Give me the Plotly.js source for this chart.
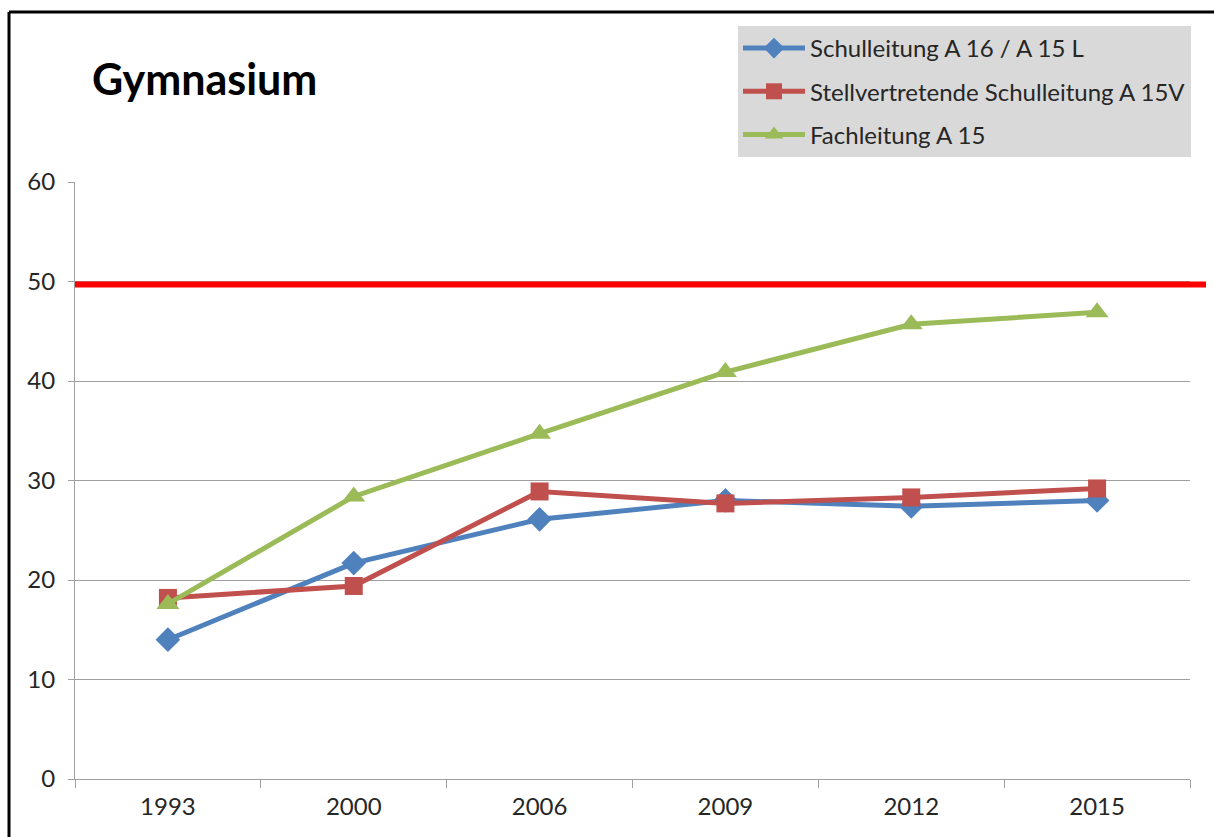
<!DOCTYPE html>
<html>
<head>
<meta charset="utf-8">
<script src="https://cdn.plot.ly/plotly-3.0.1.min.js"></script>
<style>html,body{margin:0;padding:0;background:#fff;}#chart{width:1214px;height:837px;}</style>
</head>
<body>
<div id="chart"></div>
<script>
const years = ["1993", "2000", "2006", "2009", "2012", "2015"];
const schulleitung = [14.0, 21.7, 26.1, 28.0, 27.4, 28.0];
const stellvertretend = [18.2, 19.4, 28.9, 27.7, 28.3, 29.2];
const fachleitung = [17.6, 28.4, 34.7, 40.9, 45.7, 46.9];
const seriesNames = ["Schulleitung A 16 / A 15 L", "Stellvertretende Schulleitung A 15V", "Fachleitung A 15"];
const referenceLevel = 49.7;
const yTicks = [0, 10, 20, 30, 40, 50, 60];
const chartTitle = "Gymnasium";

const FONT = "Lato, 'Open Sans', sans-serif";
const traces = [
  {x: years, y: schulleitung, name: seriesNames[0], legendgroup: "a", mode: "lines+markers",
   line: {color: "#4F81BD", width: 5}, marker: {symbol: "diamond", size: 19, color: "#4F81BD"}},
  {x: years, y: stellvertretend, name: seriesNames[1], legendgroup: "b", mode: "lines+markers",
   line: {color: "#C0504D", width: 5}, marker: {symbol: "square", size: 18, color: "#C0504D"}},
  {x: years, y: fachleitung, name: seriesNames[2], legendgroup: "c", mode: "lines+markers",
   line: {color: "#9BBB59", width: 5}, marker: {symbol: "triangle-up", size: 20, color: "#9BBB59"}}
];

const layout = {
  width: 1214, height: 837,
  paper_bgcolor: "#fff", plot_bgcolor: "#fff",
  margin: {l: 75, r: 24, t: 182, b: 58, pad: 0},
  font: {family: FONT, size: 24, color: "#262626"},
  title: {text: "<b>" + chartTitle + "</b>", xref: "container", yref: "container",
          x: 92/1214, xanchor: "left", y: 1 - 80/837, yanchor: "middle",
          font: {family: FONT, size: 43, color: "#000"}},
  showlegend: true,
  legend: {x: (738-75)/1115, xref: "paper", xanchor: "left", y: 1 + (182-26)/597, yanchor: "top",
           bgcolor: "#D9D9D9", borderwidth: 0, font: {family: FONT, size: 24, color: "#262626"},
           traceorder: "grouped", tracegroupgap: 9, itemwidth: 62},
  xaxis: {type: "category", range: [-0.5, 5.5], showgrid: false, zeroline: false,
          showline: true, linecolor: "#A0A0A0", linewidth: 1,
          ticks: "outside", tickson: "boundaries", ticklen: 8, tickcolor: "#A0A0A0",
          ticklabelstandoff: 6,
          tickfont: {family: FONT, size: 24, color: "#262626"}, fixedrange: true},
  yaxis: {range: [0, 60], tickvals: yTicks, showgrid: true, gridcolor: "#A0A0A0", gridwidth: 1,
          zeroline: false, showline: true, linecolor: "#A0A0A0", linewidth: 1,
          ticks: "outside", ticklen: 6, tickcolor: "#A0A0A0",
          ticklabelstandoff: 8,
          tickfont: {family: FONT, size: 24, color: "#262626"}, fixedrange: true},
  shapes: [
    {type: "line", xref: "paper", yref: "y", x0: 0, x1: (1206-75)/1115, y0: referenceLevel, y1: referenceLevel,
     line: {color: "#FF0000", width: 6}, layer: "above"},
    {type: "line", xref: "paper", yref: "paper", x0: -66/1115, x1: 1.2, y0: 1 + (182-12)/597, y1: 1 + (182-12)/597,
     line: {color: "#000", width: 3}},
    {type: "line", xref: "paper", yref: "paper", x0: -66/1115, x1: -66/1115, y0: 1 + (182-12)/597, y1: -0.2,
     line: {color: "#000", width: 3}}
  ]
};

Plotly.newPlot("chart", traces, layout, {displayModeBar: false, staticPlot: true});
</script>
</body>
</html>
